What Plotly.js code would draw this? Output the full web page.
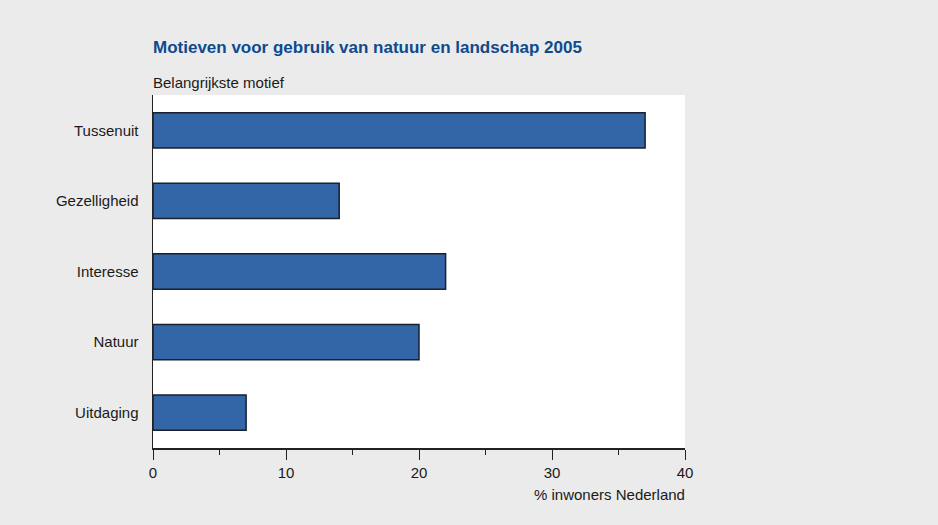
<!DOCTYPE html>
<html>
<head>
<meta charset="utf-8">
<script src="https://cdn.plot.ly/plotly-3.0.1.min.js"></script>
<style>
  html, body { margin: 0; padding: 0; background: #ebebeb; }
  #chart { width: 938px; height: 525px; }
</style>
</head>
<body>
<div id="chart"></div>
<script>
// Belangrijkste motief voor bezoek aan natuur en landschap, % inwoners
const motieven = ["Tussenuit", "Gezelligheid", "Interesse", "Natuur", "Uitdaging"];
const percentages = [37, 14, 22, 20, 7];
const xTicks = [0, 10, 20, 30, 40];

const font = "Liberation Sans, Arial, sans-serif";

const trace = {
  type: "bar",
  orientation: "h",
  y: motieven,
  x: percentages,
  marker: {
    color: "#3366a6",
    line: { color: "#1b1f2e", width: 1.5 }
  },
  hoverinfo: "x+y"
};

const layout = {
  width: 938,
  height: 525,
  paper_bgcolor: "#ebebeb",
  plot_bgcolor: "#ffffff",
  margin: { l: 153, r: 253, t: 95, b: 77 },
  bargap: 0.5,
  showlegend: false,
  font: { family: font, size: 15, color: "#1a1a1a" },
  xaxis: {
    range: [0, 40],
    tickvals: xTicks,
    ticktext: xTicks.map(String),
    ticks: "outside",
    ticklen: 10,
    tickwidth: 1,
    tickcolor: "#222",
    showline: true,
    linecolor: "#222",
    linewidth: 1.5,
    showgrid: false,
    zeroline: false,
    minor: { dtick: 5, tick0: 0, ticks: "outside", ticklen: 5, tickcolor: "#222", showgrid: false },
    tickfont: { family: font, size: 15, color: "#1a1a1a" },
    fixedrange: true
  },
  yaxis: {
    categoryorder: "array",
    categoryarray: motieven.slice().reverse(),
    showline: true,
    linecolor: "#222",
    linewidth: 1.5,
    ticks: "",
    ticklabelstandoff: 10,
    showgrid: false,
    zeroline: false,
    tickfont: { family: font, size: 15, color: "#1a1a1a" },
    fixedrange: true
  },
  annotations: [
    {
      text: "<b>Motieven voor gebruik van natuur en landschap 2005</b>",
      xref: "paper", yref: "paper",
      x: 0, y: 1,
      xanchor: "left", yanchor: "bottom",
      xshift: -2, yshift: 36,
      showarrow: false,
      font: { family: font, size: 17, color: "#0e4a8c" }
    },
    {
      text: "Belangrijkste motief",
      xref: "paper", yref: "paper",
      x: 0, y: 1,
      xanchor: "left", yanchor: "bottom",
      xshift: -2, yshift: 2,
      showarrow: false,
      font: { family: font, size: 15, color: "#1a1a1a" }
    },
    {
      text: "% inwoners Nederland",
      xref: "paper", yref: "paper",
      x: 1, y: 0,
      xanchor: "right", yanchor: "top",
      xshift: 2, yshift: -36,
      showarrow: false,
      font: { family: font, size: 15, color: "#1a1a1a" }
    }
  ]
};

Plotly.newPlot("chart", [trace], layout, { displayModeBar: false, staticPlot: true });
</script>
</body>
</html>
